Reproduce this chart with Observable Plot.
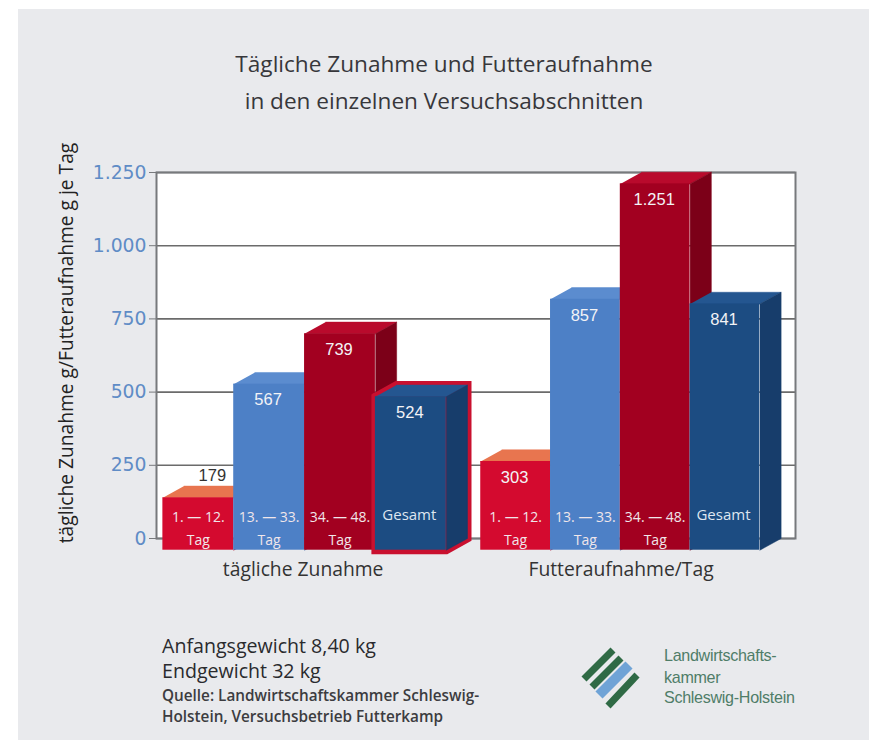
<!DOCTYPE html>
<html lang="de">
<head>
<meta charset="utf-8">
<script src="https://cdn.jsdelivr.net/npm/d3@7"></script>
<script src="https://cdn.jsdelivr.net/npm/@observablehq/plot@0.6"></script>
<style>
  html, body { margin: 0; padding: 0; background: #fff; }
  #page { position: relative; width: 869px; height: 740px; overflow: hidden; background: #fff; }
  #panel { position: absolute; left: 18px; top: 9px; right: 0; bottom: 0; background: #e9eaed; }
  #chart { position: absolute; left: 0; top: 0; }
  #chart svg { background: transparent !important; display: block; }
  .t { position: absolute; white-space: nowrap; font-family: "Open Sans", sans-serif; color: #2f2f33; }
  .title { left: 0; width: 888px; text-align: center; font-size: 22.6px; color: #37373b; line-height: 1; }
  .ylab { left: 65px; top: 343px; font-size: 19.2px; color: #222; transform: translate(-50%, -50%) rotate(-90deg); }
  .note { left: 162px; font-size: 19.6px; line-height: 1; color: #2a2a2e; }
  .src { left: 162px; font-size: 15.3px; font-weight: 600; line-height: 1; color: #3c3c40; }
  .org { left: 664px; font-family: "Liberation Sans", sans-serif; font-size: 16.1px; line-height: 1; color: #4f7d68; letter-spacing: -0.3px; }
  #logo { position: absolute; left: 575px; top: 640px; }
</style>
</head>
<body>
<div id="page">
  <div id="panel"></div>
  <div id="chart"></div>
  <div class="t title" style="top:53px">Tägliche Zunahme und Futteraufnahme</div>
  <div class="t title" style="top:90px">in den einzelnen Versuchsabschnitten</div>
  <div class="t ylab">tägliche Zunahme g/Futteraufnahme g je Tag</div>
  <div class="t note" style="top:636px">Anfangsgewicht 8,40 kg</div>
  <div class="t note" style="top:661px">Endgewicht 32 kg</div>
  <div class="t src" style="top:688px">Quelle: Landwirtschaftskammer Schleswig-</div>
  <div class="t src" style="top:709px">Holstein, Versuchsbetrieb Futterkamp</div>
  <svg id="logo" width="70" height="75" viewBox="575 640 70 75" aria-hidden="true">
    <g stroke-linecap="butt">
      <line x1="584" y1="679" x2="613" y2="650" stroke="#2f6a45" stroke-width="7"/>
      <line x1="592" y1="687" x2="621" y2="658" stroke="#2f6a45" stroke-width="7"/>
      <line x1="599" y1="695" x2="629" y2="665" stroke="#6fa3d6" stroke-width="10"/>
      <line x1="608" y1="706" x2="637" y2="675" stroke="#2f6a45" stroke-width="7"/>
    </g>
  </svg>
  <div class="t org" style="top:647px">Landwirtschafts-</div>
  <div class="t org" style="top:669px">kammer</div>
  <div class="t org" style="top:689px">Schleswig-Holstein</div>
</div>
<script>
// Chart values
const groups = ["tägliche Zunahme", "Futteraufnahme/Tag"];
const periods = ["1. — 12.\nTag", "13. — 33.\nTag", "34. — 48.\nTag", "Gesamt"];
const zunahme = [179, 567, 739, 524];
const futter = [303, 857, 1251, 841];
const yTicks = [0, 250, 500, 750, 1000, 1250];

// Colours of each period: front, top, side
const frontColors = ["#d40a2f", "#4d80c6", "#a20020", "#1c4c82"];
const topColors = ["#e8754f", "#5b8ccf", "#b90a2c", "#245690"];
const sideColors = ["#a80826", "#3a659f", "#7c0018", "#173d6b"];

// The 3D depth in data units; x is measured in bar widths
const depthX = 0.3, depthY = 40, groupStart = [0, 4.487], groupBarWidth = [1, 0.985];

const series = [zunahme, futter];
const bars = series.flatMap((vals, g) => vals.map((v, i) => ({
  group: g, period: i, value: v, label: periods[i],
  x0: groupStart[g] + i * groupBarWidth[g], x1: groupStart[g] + (i + 1) * groupBarWidth[g],
  base: -depthY, top: v - depthY,
  highlight: g === 0 && i === 3
})));

function poly(pts) { return pts.map(([x, y]) => ({x, y})); }
const face = (pts, color) => Plot.line(poly(pts), {x: "x", y: "y", fill: color, stroke: color, strokeWidth: 0.5, curve: "linear"});

const barMarks = bars.flatMap(b => {
  const m = [];
  if (b.highlight) {
    m.push(Plot.line(poly([
      [b.x0, b.top], [b.x0, b.base], [b.x1, b.base], [b.x1 + depthX, 0], [b.x1 + depthX, b.value],
      [b.x0 + depthX, b.value], [b.x0, b.top], [b.x0, b.base]
    ]), {x: "x", y: "y", fill: "#c9102f", stroke: "#c9102f", strokeWidth: 8, strokeLinejoin: "miter", strokeMiterlimit: 10, curve: "linear"}));
  }
  m.push(face([[b.x0, b.top], [b.x1, b.top], [b.x1 + depthX, b.value], [b.x0 + depthX, b.value]], topColors[b.period]));
  m.push(face([[b.x1, b.top], [b.x1 + depthX, b.value], [b.x1 + depthX, 0], [b.x1, b.base]], sideColors[b.period]));
  m.push(Plot.rect([b], {x1: "x0", x2: "x1", y1: "base", y2: "top", fill: frontColors[b.period], inset: 0}));
  return m;
});

const xMid = d => (d.x0 + d.x1) / 2;
const fmt = v => d3.format(",")(v).replace(",", ".");

const plot = Plot.plot({
  width: 869, height: 740,
  marginTop: 172, marginBottom: 202, marginLeft: 156, marginRight: 74,
  style: {background: "transparent"},
  x: {domain: [-0.09, 8.93], axis: null},
  y: {domain: [0, 1250], axis: null},
  marks: [
    Plot.frame({fill: "#fff", stroke: "none"}),
    Plot.ruleY(yTicks, {stroke: "#6b6b6b", strokeWidth: 1.6}),
    Plot.frame({stroke: "#77797c", strokeWidth: 2}),
    Plot.axisY({
      ticks: yTicks, tickSize: 7, tickPadding: 3, tickFormat: fmt, label: null,
      stroke: "#77797c", fill: "#5f8cc6", fontSize: 18.8, fontFamily: "DejaVu Sans"
    }),
    ...barMarks,
    // value labels
    Plot.text(bars.filter(b => b.value !== 179), {
      x: xMid, y: "top", text: d => fmt(d.value), dy: 16, dx: -1,
      fill: "#f3f3f6", fontSize: 16.5, fontFamily: "Liberation Sans"
    }),
    Plot.text(bars.filter(b => b.value === 179), {
      x: xMid, y: "value", text: d => fmt(d.value), dy: -10, dx: 14,
      fill: "#333", fontSize: 16.5, fontFamily: "Liberation Sans"
    }),
    // period labels inside the bars
    Plot.text(bars.filter(b => b.period < 3), {
      x: xMid, y: "base", text: "label", dy: -24.5, lineHeight: 1.64,
      fill: "#f0e6ea", fontSize: 14, fontFamily: "Open Sans", letterSpacing: -0.5
    }),
    Plot.text(bars.filter(b => b.period === 3), {
      x: xMid, y: "base", text: "label", dy: -35.5, dx: -1.5,
      fill: "#dfe6f0", fontSize: 15, fontFamily: "Open Sans"
    }),
    // group labels
    Plot.text(groups, {
      x: (d, i) => groupStart[i] + 1.98, y: () => -depthY, text: d => d, dy: 20,
      fill: "#333", fontSize: 19.3, fontFamily: "Open Sans"
    })
  ]
});
document.getElementById("chart").appendChild(plot);
</script>
</body>
</html>
